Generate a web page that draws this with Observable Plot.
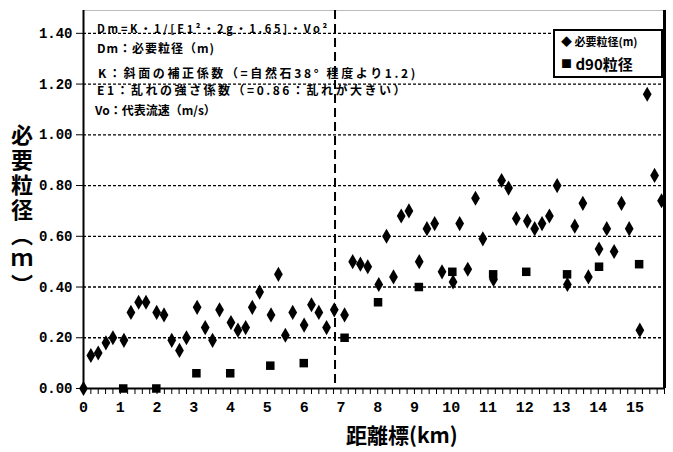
<!DOCTYPE html>
<html>
<head>
<meta charset="utf-8">
<script src="https://cdn.jsdelivr.net/npm/d3@7"></script>
<script src="https://cdn.jsdelivr.net/npm/@observablehq/plot@0.6"></script>
<style>
  html, body { margin: 0; padding: 0; background: #fff; }
  #wrap { position: relative; width: 673px; height: 452px; overflow: hidden; }
  .note { position: absolute; font-family: "Noto Sans CJK JP", sans-serif; font-weight: 700; color: #000; white-space: nowrap; line-height: 1; }
  #ylab { position: absolute; left: 11px; top: 124px; writing-mode: vertical-rl; font-family: "Noto Sans CJK JP", sans-serif; font-weight: 700; font-size: 22px; letter-spacing: 3px; line-height: 1; }
  #xlab { position: absolute; left: 346px; top: 424px; font-family: "Noto Sans CJK JP", sans-serif; font-weight: 700; font-size: 21px; line-height: 1; white-space: nowrap; }
  #legend { position: absolute; left: 553px; top: 29px; width: 106px; height: 45px; border: 2px solid #000; background: #fff; font-family: "Noto Sans CJK JP", sans-serif; font-weight: 700; }
  .lg { position: absolute; white-space: nowrap; line-height: 1; }
</style>
</head>
<body>
<div id="wrap"></div>
<script>
// ---- data ----
const diamondKm = [0,0.2,0.4,0.61,0.8,1.1,1.29,1.5,1.7,1.99,2.19,2.4,2.61,2.8,3.09,3.31,3.51,3.7,4.01,4.2,4.41,4.59,4.79,5.1,5.3,5.49,5.69,6.0,6.2,6.4,6.61,6.82,7.1,7.32,7.53,7.73,8.03,8.24,8.43,8.64,8.85,9.13,9.34,9.55,9.75,10.05,10.23,10.45,10.66,10.86,11.15,11.37,11.56,11.77,12.07,12.27,12.47,12.67,12.88,13.16,13.36,13.58,13.73,14.02,14.23,14.43,14.63,14.84,15.13,15.33,15.53,15.72];
const diamondVal = [0,0.13,0.14,0.18,0.20,0.19,0.30,0.34,0.34,0.30,0.29,0.19,0.15,0.20,0.32,0.24,0.19,0.31,0.26,0.23,0.24,0.32,0.38,0.29,0.45,0.21,0.30,0.25,0.33,0.30,0.24,0.31,0.29,0.50,0.49,0.48,0.41,0.60,0.44,0.68,0.70,0.50,0.63,0.65,0.46,0.42,0.65,0.47,0.75,0.59,0.43,0.82,0.79,0.67,0.66,0.63,0.65,0.68,0.80,0.41,0.64,0.73,0.44,0.55,0.63,0.54,0.73,0.63,0.23,1.16,0.84,0.74];
const squareKm = [1.08,1.98,3.07,3.99,5.08,5.99,7.1,8.01,9.12,10.03,11.14,12.04,13.15,14.02,15.11];
const squareVal = [0,0,0.06,0.06,0.09,0.10,0.20,0.34,0.40,0.46,0.45,0.46,0.45,0.48,0.49];
const xTickLabels = [0,1,2,3,4,5,6,7,8,9,10,11,12,13,14,15];
const yTickLabels = [0,0.2,0.4,0.6,0.8,1.0,1.2,1.4];
const xMax = 15.8, yMax = 1.49;
const boundaryKm = 6.84;
const seriesNames = ["必要粒径(m)", "d90粒径"];
const noteLines = [
  "Dm=K・1/[E1²・2g・1.65]・Vo²",
  "Dm：必要粒径（m)",
  "K：斜面の補正係数（=自然石38° 程度より1.2)",
  "E1：乱れの強さ係数（=0.86：乱れが大きい）",
  "Vo：代表流速（m/s）"
];
const yTitle = "必要粒径（ｍ）";
const xTitle = "距離標(km)";

const diamonds = diamondKm.map((k, i) => ({km: k, v: diamondVal[i]}));
const squares = squareKm.map((k, i) => ({km: k, v: squareVal[i]}));
const minorTicks = d3.range(0, xMax * 5 + 0.01).map(i => i / 5);
const grid = yTickLabels.filter(d => d > 0);
const tickFont = "Liberation Mono, DejaVu Sans Mono, monospace";

const chart = Plot.plot({
  width: 673,
  height: 452,
  marginLeft: 83,
  marginRight: 9,
  marginTop: 10,
  marginBottom: 64,
  x: {domain: [0, xMax]},
  y: {domain: [0, yMax]},
  style: {background: "white", color: "black"},
  marks: [
    Plot.ruleY(grid, {stroke: "black", strokeWidth: 1.3, strokeDasharray: "3,2"}),
    Plot.ruleY([yMax], {stroke: "#bbb", strokeWidth: 1}),
    Plot.ruleX([boundaryKm], {stroke: "black", strokeWidth: 2, strokeDasharray: "9,5"}),
    Plot.ruleX([0], {stroke: "black", strokeWidth: 2}),
    Plot.ruleX([xMax], {stroke: "black", strokeWidth: 3}),
    Plot.ruleY([0], {stroke: "black", strokeWidth: 2}),
    Plot.dot(squares, {x: "km", y: "v", symbol: "square", r: 4.8, fill: "black", stroke: "none"}),
    Plot.dot(diamonds, {x: "km", y: "v", symbol: "diamond", r: 4.6, fill: "black", stroke: "none"}),
    Plot.axisY({ticks: yTickLabels, tickSize: 7, tickPadding: 4, tickFormat: d3.format(".2f"), fontSize: 14, fontFamily: tickFont, fontWeight: "bold", label: null}),
    Plot.axisX({ticks: minorTicks, tickSize: 6, tickFormat: () => "", label: null}),
    Plot.axisX({ticks: xTickLabels, tickSize: 0, tickPadding: 13, tickFormat: d => String(d), fontSize: 15, fontFamily: tickFont, fontWeight: "bold", label: null})
  ]
});

const wrap = document.getElementById("wrap");
wrap.appendChild(chart);

// annotation block: [left, centerY, fontSize, targetWidth]
const notePos = [[97, 28, 11, 233], [97, 48, 12, 118], [98, 73, 12, 320], [97, 90, 12, 311], [95, 110, 12, 120]];
noteLines.forEach((t, i) => {
  const [left, cy, fs, target] = notePos[i];
  const d = document.createElement("div");
  d.className = "note";
  d.textContent = t;
  d.style.left = left + "px";
  d.style.fontSize = fs + "px";
  wrap.appendChild(d);
  const w = d.getBoundingClientRect().width;
  const n = [...t].length;
  d.style.letterSpacing = Math.max(0, (target - w) / n) + "px";
  const h = d.getBoundingClientRect().height;
  d.style.top = (cy - h / 2) + "px";
});

// axis titles
const yl = document.createElement("div"); yl.id = "ylab"; yl.textContent = yTitle; wrap.appendChild(yl);
const xl = document.createElement("div"); xl.id = "xlab"; xl.textContent = xTitle; wrap.appendChild(xl);

// legend
const lg = document.createElement("div"); lg.id = "legend";
lg.innerHTML = `<div class="lg" style="left:6px;top:5px;font-size:11px">◆ ${seriesNames[0]}</div>
<div class="lg" style="left:6px;top:25px;font-size:15px"><span style="font-size:11px;vertical-align:2px">■</span> ${seriesNames[1]}</div>`;
wrap.appendChild(lg);
</script>
</body>
</html>
